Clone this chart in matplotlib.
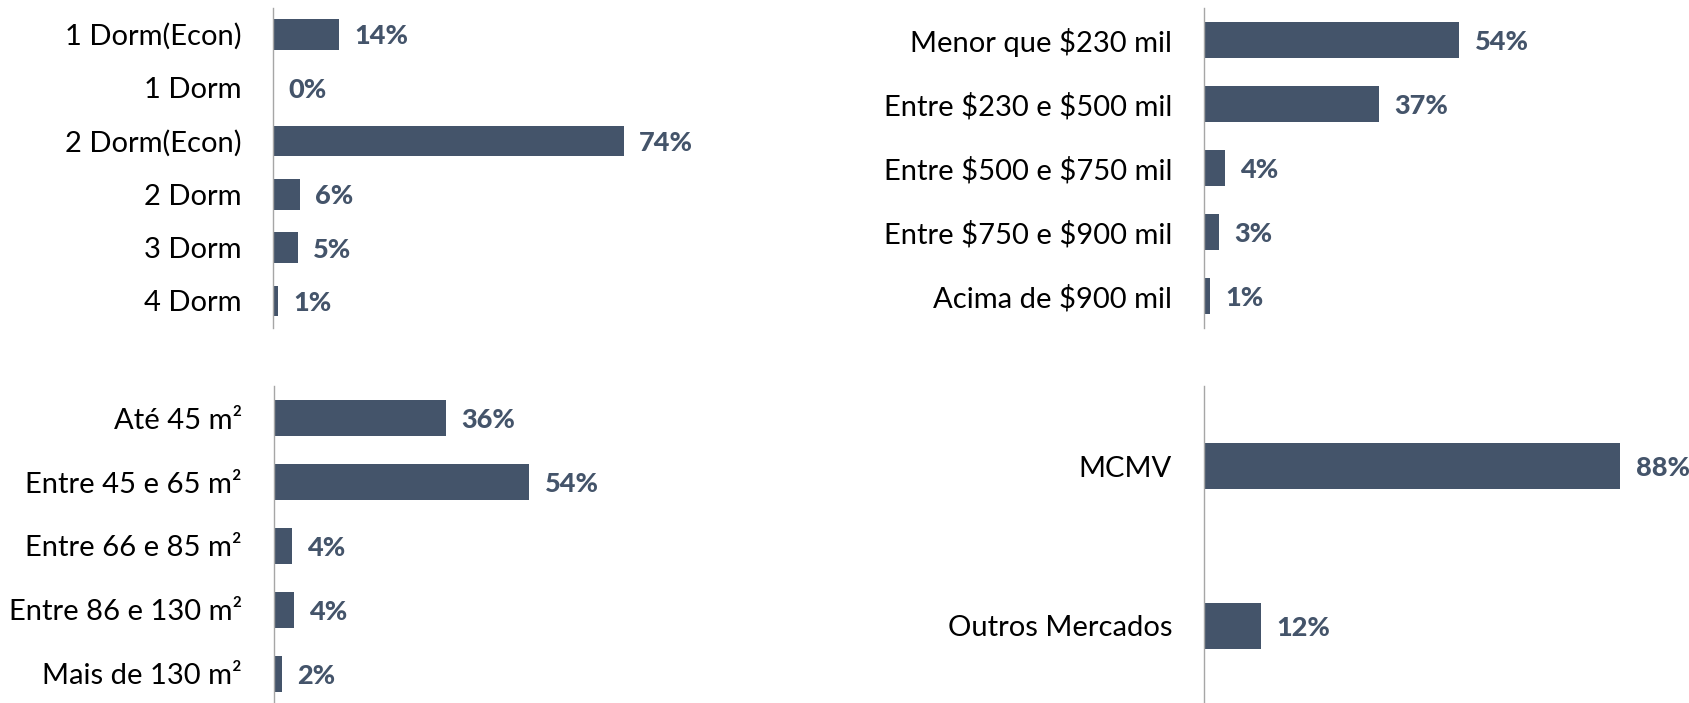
import matplotlib

matplotlib.use("Agg")
import matplotlib.pyplot as plt


BAR = "#44546A"
AXIS = "#A6A6A6"
TEXT = "#000000"
FONT = ["Lato", "DejaVu Sans"]

dorm_labels = ["1 Dorm(Econ)", "1 Dorm", "2 Dorm(Econ)", "2 Dorm", "3 Dorm", "4 Dorm"]
dorm_values = [13.9, 0.0, 74.0, 5.6, 5.1, 1.0]

price_labels = [r"Menor que \$230 mil", r"Entre \$230 e \$500 mil", r"Entre \$500 e \$750 mil",
                r"Entre \$750 e \$900 mil", r"Acima de \$900 mil"]
price_values = [54.0, 37.0, 4.4, 3.2, 1.2]

area_labels = ["Até 45 m²", "Entre 45 e 65 m²", "Entre 66 e 85 m²",
               "Entre 86 e 130 m²", "Mais de 130 m²"]
area_values = [36.4, 54.0, 3.8, 4.2, 1.6]

market_labels = ["MCMV", "Outros Mercados"]
market_values = [88.0, 12.0]

W, H = 1690, 703
PX_PER_PCT = 4.73
AX_W = 450


def panel(fig, left, top, bottom, labels, values, bar_height):
    ax = fig.add_axes([left / W, 1 - bottom / H, AX_W / W, (bottom - top) / H])
    y = list(range(len(labels)))
    bars = ax.barh(y, values, height=bar_height, color=BAR)
    ax.set_ylim(len(labels) - 0.5, -0.5)
    ax.set_xlim(0, AX_W / PX_PER_PCT)
    ax.set_yticks(y)
    ax.set_yticklabels(labels, fontsize=21, color=TEXT, family=FONT)
    ax.tick_params(axis="y", length=0, pad=23)
    ax.set_xticks([])
    for side in ["top", "right", "bottom"]:
        ax.spines[side].set_visible(False)
    ax.spines["left"].set_color(AXIS)
    ax.spines["left"].set_linewidth(1.0)
    ax.patch.set_alpha(0)
    for bar, value in zip(bars, values):
        ax.annotate(f"{value:.0f}%", (bar.get_width(), bar.get_y() + bar.get_height() / 2),
                    xytext=(11, 0), textcoords="offset points", ha="left", va="center_baseline",
                    fontsize=19.5, fontweight="black", color=BAR, family=FONT)
    return ax


fig = plt.figure(figsize=(W / 100, H / 100), dpi=100, facecolor="white")

panel(fig, 273.5, 7.5, 327.5, dorm_labels, dorm_values, 0.575)
panel(fig, 1204, 8, 328, price_labels, price_values, 0.56)
panel(fig, 274, 386, 706, area_labels, area_values, 0.56)
panel(fig, 1204, 386, 706, market_labels, market_values, 0.283)

fig.savefig("out.png", dpi=100, facecolor="white")
